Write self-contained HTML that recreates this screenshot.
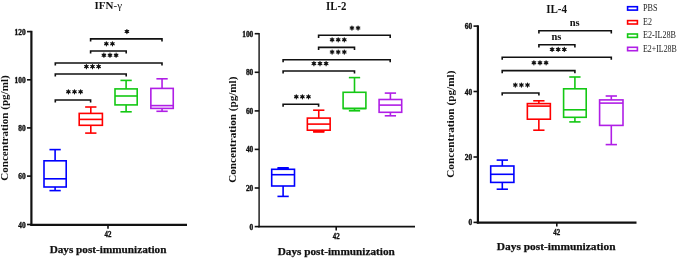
<!DOCTYPE html>
<html><head><meta charset="utf-8"><style>
html,body{margin:0;padding:0;background:#fff;width:678px;height:258px;overflow:hidden}
svg{display:block;will-change:transform}
text{font-family:"Liberation Serif",serif;fill:#111}
</style></head><body>
<svg width="678" height="258" viewBox="0 0 678 258">
<line x1="31.40" y1="30.80" x2="31.40" y2="225.60" stroke="#111" stroke-width="2.2"/>
<line x1="27.00" y1="31.60" x2="31.40" y2="31.60" stroke="#111" stroke-width="1.6"/>
<text x="25.60" y="34.60" font-size="7.4" text-anchor="end" font-weight="bold" stroke="#111" stroke-width="0.35">120</text>
<line x1="27.00" y1="79.80" x2="31.40" y2="79.80" stroke="#111" stroke-width="1.6"/>
<text x="25.60" y="82.80" font-size="7.4" text-anchor="end" font-weight="bold" stroke="#111" stroke-width="0.35">100</text>
<line x1="27.00" y1="127.90" x2="31.40" y2="127.90" stroke="#111" stroke-width="1.6"/>
<text x="25.60" y="130.90" font-size="7.4" text-anchor="end" font-weight="bold" stroke="#111" stroke-width="0.35">80</text>
<line x1="27.00" y1="176.10" x2="31.40" y2="176.10" stroke="#111" stroke-width="1.6"/>
<text x="25.60" y="179.10" font-size="7.4" text-anchor="end" font-weight="bold" stroke="#111" stroke-width="0.35">60</text>
<line x1="27.00" y1="224.50" x2="31.40" y2="224.50" stroke="#111" stroke-width="1.6"/>
<text x="25.60" y="227.50" font-size="7.4" text-anchor="end" font-weight="bold" stroke="#111" stroke-width="0.35">40</text>
<line x1="30.30" y1="224.80" x2="187.00" y2="224.80" stroke="#111" stroke-width="2.2"/>
<line x1="108.00" y1="224.80" x2="108.00" y2="228.80" stroke="#111" stroke-width="1.6"/>
<text x="108.00" y="236.70" font-size="7.8" text-anchor="middle" font-weight="bold" textLength="6.9" lengthAdjust="spacingAndGlyphs" stroke="#111" stroke-width="0.35">42</text>
<text x="108.05" y="252.60" font-size="11.1" text-anchor="middle" font-weight="bold" textLength="116.8" lengthAdjust="spacingAndGlyphs" stroke="#111" stroke-width="0.25">Days post-immunization</text>
<text x="108.30" y="8.60" font-size="11.3" text-anchor="middle" font-weight="bold" textLength="27.4" lengthAdjust="spacingAndGlyphs" >IFN<tspan font-weight="normal">-&#947;</tspan></text>
<text x="0" y="0" font-size="11" font-weight="bold" text-anchor="middle" textLength="105.4" lengthAdjust="spacingAndGlyphs" transform="translate(8.4 128.05) rotate(-90)">Concentration (pg/ml)</text>
<rect x="44.00" y="160.8" width="22.20" height="26.20" fill="none" stroke="#0000FF" stroke-width="1.6"/>
<line x1="44.00" y1="178.80" x2="66.20" y2="178.80" stroke="#0000FF" stroke-width="1.6"/>
<line x1="55.10" y1="160.80" x2="55.10" y2="149.60" stroke="#0000FF" stroke-width="1.6"/>
<line x1="49.45" y1="149.60" x2="60.75" y2="149.60" stroke="#0000FF" stroke-width="1.6"/>
<line x1="55.10" y1="187.00" x2="55.10" y2="190.60" stroke="#0000FF" stroke-width="1.6"/>
<line x1="49.45" y1="190.60" x2="60.75" y2="190.60" stroke="#0000FF" stroke-width="1.6"/>
<rect x="79.20" y="113.4" width="23.20" height="11.90" fill="none" stroke="#FF0000" stroke-width="1.6"/>
<line x1="79.20" y1="119.40" x2="102.40" y2="119.40" stroke="#FF0000" stroke-width="1.6"/>
<line x1="90.80" y1="113.40" x2="90.80" y2="107.00" stroke="#FF0000" stroke-width="1.6"/>
<line x1="85.15" y1="107.00" x2="96.45" y2="107.00" stroke="#FF0000" stroke-width="1.6"/>
<line x1="90.80" y1="125.30" x2="90.80" y2="133.10" stroke="#FF0000" stroke-width="1.6"/>
<line x1="85.15" y1="133.10" x2="96.45" y2="133.10" stroke="#FF0000" stroke-width="1.6"/>
<rect x="115.00" y="88.9" width="22.20" height="16.00" fill="none" stroke="#14C814" stroke-width="1.6"/>
<line x1="115.00" y1="96.00" x2="137.20" y2="96.00" stroke="#14C814" stroke-width="1.6"/>
<line x1="126.10" y1="88.90" x2="126.10" y2="80.40" stroke="#14C814" stroke-width="1.6"/>
<line x1="120.45" y1="80.40" x2="131.75" y2="80.40" stroke="#14C814" stroke-width="1.6"/>
<line x1="126.10" y1="104.90" x2="126.10" y2="111.80" stroke="#14C814" stroke-width="1.6"/>
<line x1="120.45" y1="111.80" x2="131.75" y2="111.80" stroke="#14C814" stroke-width="1.6"/>
<rect x="150.85" y="88.4" width="22.40" height="20.00" fill="none" stroke="#B01EE6" stroke-width="1.6"/>
<line x1="150.85" y1="105.60" x2="173.25" y2="105.60" stroke="#B01EE6" stroke-width="1.6"/>
<line x1="162.05" y1="88.40" x2="162.05" y2="78.80" stroke="#B01EE6" stroke-width="1.6"/>
<line x1="156.40" y1="78.80" x2="167.70" y2="78.80" stroke="#B01EE6" stroke-width="1.6"/>
<line x1="162.05" y1="108.40" x2="162.05" y2="111.30" stroke="#B01EE6" stroke-width="1.6"/>
<line x1="156.40" y1="111.30" x2="167.70" y2="111.30" stroke="#B01EE6" stroke-width="1.6"/>
<path d="M90.60 41.50V38.90H162.00V41.50" fill="none" stroke="#111" stroke-width="1.6"/>
<path d="M126.90 29.45L126.90 33.55M125.12 30.48L128.68 32.52M128.68 30.48L125.12 32.52" stroke="#111" stroke-width="1.15" stroke-linecap="round"/>
<circle cx="126.90" cy="31.50" r="1.5" fill="#111"/>
<path d="M90.60 53.60V51.00H126.20V53.60" fill="none" stroke="#111" stroke-width="1.6"/>
<path d="M106.35 41.75L106.35 45.85M104.57 42.77L108.13 44.82M108.13 42.77L104.57 44.82" stroke="#111" stroke-width="1.15" stroke-linecap="round"/>
<circle cx="106.35" cy="43.80" r="1.5" fill="#111"/>
<path d="M112.45 41.75L112.45 45.85M110.67 42.77L114.23 44.82M114.23 42.77L110.67 44.82" stroke="#111" stroke-width="1.15" stroke-linecap="round"/>
<circle cx="112.45" cy="43.80" r="1.5" fill="#111"/>
<path d="M55.30 65.60V63.00H162.00V65.60" fill="none" stroke="#111" stroke-width="1.6"/>
<path d="M103.90 53.15L103.90 57.25M102.12 54.18L105.68 56.23M105.68 54.18L102.12 56.23" stroke="#111" stroke-width="1.15" stroke-linecap="round"/>
<circle cx="103.90" cy="55.20" r="1.5" fill="#111"/>
<path d="M110.00 53.15L110.00 57.25M108.22 54.18L111.78 56.23M111.78 54.18L108.22 56.23" stroke="#111" stroke-width="1.15" stroke-linecap="round"/>
<circle cx="110.00" cy="55.20" r="1.5" fill="#111"/>
<path d="M116.10 53.15L116.10 57.25M114.32 54.18L117.88 56.23M117.88 54.18L114.32 56.23" stroke="#111" stroke-width="1.15" stroke-linecap="round"/>
<circle cx="116.10" cy="55.20" r="1.5" fill="#111"/>
<path d="M55.30 76.60V74.00H126.20V76.60" fill="none" stroke="#111" stroke-width="1.6"/>
<path d="M86.40 64.55L86.40 68.65M84.62 65.57L88.18 67.62M88.18 65.57L84.62 67.62" stroke="#111" stroke-width="1.15" stroke-linecap="round"/>
<circle cx="86.40" cy="66.60" r="1.5" fill="#111"/>
<path d="M92.50 64.55L92.50 68.65M90.72 65.57L94.28 67.62M94.28 65.57L90.72 67.62" stroke="#111" stroke-width="1.15" stroke-linecap="round"/>
<circle cx="92.50" cy="66.60" r="1.5" fill="#111"/>
<path d="M98.60 64.55L98.60 68.65M96.82 65.57L100.38 67.62M100.38 65.57L96.82 67.62" stroke="#111" stroke-width="1.15" stroke-linecap="round"/>
<circle cx="98.60" cy="66.60" r="1.5" fill="#111"/>
<path d="M55.30 102.60V100.00H90.60V102.60" fill="none" stroke="#111" stroke-width="1.6"/>
<path d="M68.40 89.75L68.40 93.85M66.62 90.77L70.18 92.83M70.18 90.77L66.62 92.83" stroke="#111" stroke-width="1.15" stroke-linecap="round"/>
<circle cx="68.40" cy="91.80" r="1.5" fill="#111"/>
<path d="M74.50 89.75L74.50 93.85M72.72 90.77L76.28 92.83M76.28 90.77L72.72 92.83" stroke="#111" stroke-width="1.15" stroke-linecap="round"/>
<circle cx="74.50" cy="91.80" r="1.5" fill="#111"/>
<path d="M80.60 89.75L80.60 93.85M78.82 90.77L82.38 92.83M82.38 90.77L78.82 92.83" stroke="#111" stroke-width="1.15" stroke-linecap="round"/>
<circle cx="80.60" cy="91.80" r="1.5" fill="#111"/>
<line x1="259.10" y1="32.90" x2="259.10" y2="227.30" stroke="#111" stroke-width="1.4"/>
<line x1="254.70" y1="33.70" x2="259.10" y2="33.70" stroke="#111" stroke-width="1.6"/>
<text x="253.30" y="36.70" font-size="7.4" text-anchor="end" font-weight="bold" stroke="#111" stroke-width="0.35">100</text>
<line x1="254.70" y1="72.30" x2="259.10" y2="72.30" stroke="#111" stroke-width="1.6"/>
<text x="253.30" y="75.30" font-size="7.4" text-anchor="end" font-weight="bold" stroke="#111" stroke-width="0.35">80</text>
<line x1="254.70" y1="110.90" x2="259.10" y2="110.90" stroke="#111" stroke-width="1.6"/>
<text x="253.30" y="113.90" font-size="7.4" text-anchor="end" font-weight="bold" stroke="#111" stroke-width="0.35">60</text>
<line x1="254.70" y1="149.40" x2="259.10" y2="149.40" stroke="#111" stroke-width="1.6"/>
<text x="253.30" y="152.40" font-size="7.4" text-anchor="end" font-weight="bold" stroke="#111" stroke-width="0.35">40</text>
<line x1="254.70" y1="188.00" x2="259.10" y2="188.00" stroke="#111" stroke-width="1.6"/>
<text x="253.30" y="191.00" font-size="7.4" text-anchor="end" font-weight="bold" stroke="#111" stroke-width="0.35">20</text>
<line x1="254.70" y1="226.60" x2="259.10" y2="226.60" stroke="#111" stroke-width="1.6"/>
<text x="253.30" y="229.60" font-size="7.4" text-anchor="end" font-weight="bold" stroke="#111" stroke-width="0.35">0</text>
<line x1="258.30" y1="226.60" x2="415.00" y2="226.60" stroke="#111" stroke-width="1.8"/>
<line x1="336.20" y1="226.60" x2="336.20" y2="230.60" stroke="#111" stroke-width="1.6"/>
<text x="336.20" y="239.40" font-size="7.8" text-anchor="middle" font-weight="bold" textLength="6.9" lengthAdjust="spacingAndGlyphs" stroke="#111" stroke-width="0.35">42</text>
<text x="336.25" y="254.50" font-size="11.1" text-anchor="middle" font-weight="bold" textLength="117.2" lengthAdjust="spacingAndGlyphs" stroke="#111" stroke-width="0.25">Days post-immunization</text>
<text x="336.20" y="10.00" font-size="11.5" text-anchor="middle" font-weight="bold" textLength="20.4" lengthAdjust="spacingAndGlyphs" >IL-2</text>
<text x="0" y="0" font-size="11" font-weight="bold" text-anchor="middle" textLength="106.2" lengthAdjust="spacingAndGlyphs" transform="translate(236.1 129.7) rotate(-90)">Concentration (pg/ml)</text>
<rect x="271.70" y="169.3" width="22.80" height="16.70" fill="none" stroke="#0000FF" stroke-width="1.6"/>
<line x1="271.70" y1="174.70" x2="294.50" y2="174.70" stroke="#0000FF" stroke-width="1.6"/>
<line x1="283.10" y1="169.30" x2="283.10" y2="167.80" stroke="#0000FF" stroke-width="1.6"/>
<line x1="277.45" y1="167.80" x2="288.75" y2="167.80" stroke="#0000FF" stroke-width="1.6"/>
<line x1="283.10" y1="186.00" x2="283.10" y2="196.40" stroke="#0000FF" stroke-width="1.6"/>
<line x1="277.45" y1="196.40" x2="288.75" y2="196.40" stroke="#0000FF" stroke-width="1.6"/>
<rect x="277.45" y="167.80" width="11.30" height="1.50" fill="#0000FF"/>
<rect x="307.35" y="118.1" width="22.80" height="12.10" fill="none" stroke="#FF0000" stroke-width="1.6"/>
<line x1="307.35" y1="124.10" x2="330.15" y2="124.10" stroke="#FF0000" stroke-width="1.6"/>
<line x1="318.75" y1="118.10" x2="318.75" y2="110.20" stroke="#FF0000" stroke-width="1.6"/>
<line x1="313.10" y1="110.20" x2="324.40" y2="110.20" stroke="#FF0000" stroke-width="1.6"/>
<line x1="318.75" y1="130.20" x2="318.75" y2="132.00" stroke="#FF0000" stroke-width="1.6"/>
<line x1="313.10" y1="132.00" x2="324.40" y2="132.00" stroke="#FF0000" stroke-width="1.6"/>
<rect x="313.10" y="130.20" width="11.30" height="1.80" fill="#FF0000"/>
<rect x="343.10" y="92.3" width="22.80" height="16.20" fill="none" stroke="#14C814" stroke-width="1.6"/>
<line x1="343.10" y1="108.50" x2="365.90" y2="108.50" stroke="#14C814" stroke-width="1.6"/>
<line x1="354.50" y1="92.30" x2="354.50" y2="77.60" stroke="#14C814" stroke-width="1.6"/>
<line x1="348.85" y1="77.60" x2="360.15" y2="77.60" stroke="#14C814" stroke-width="1.6"/>
<line x1="354.50" y1="108.50" x2="354.50" y2="110.80" stroke="#14C814" stroke-width="1.6"/>
<line x1="348.85" y1="110.80" x2="360.15" y2="110.80" stroke="#14C814" stroke-width="1.6"/>
<rect x="379.10" y="99.5" width="22.60" height="12.80" fill="none" stroke="#B01EE6" stroke-width="1.6"/>
<line x1="379.10" y1="105.10" x2="401.70" y2="105.10" stroke="#B01EE6" stroke-width="1.6"/>
<line x1="390.40" y1="99.50" x2="390.40" y2="93.10" stroke="#B01EE6" stroke-width="1.6"/>
<line x1="384.75" y1="93.10" x2="396.05" y2="93.10" stroke="#B01EE6" stroke-width="1.6"/>
<line x1="390.40" y1="112.30" x2="390.40" y2="115.80" stroke="#B01EE6" stroke-width="1.6"/>
<line x1="384.75" y1="115.80" x2="396.05" y2="115.80" stroke="#B01EE6" stroke-width="1.6"/>
<path d="M318.60 37.90V35.30H390.20V37.90" fill="none" stroke="#111" stroke-width="1.6"/>
<path d="M351.95 25.95L351.95 30.05M350.17 26.98L353.73 29.02M353.73 26.98L350.17 29.02" stroke="#111" stroke-width="1.15" stroke-linecap="round"/>
<circle cx="351.95" cy="28.00" r="1.5" fill="#111"/>
<path d="M358.05 25.95L358.05 30.05M356.27 26.98L359.83 29.02M359.83 26.98L356.27 29.02" stroke="#111" stroke-width="1.15" stroke-linecap="round"/>
<circle cx="358.05" cy="28.00" r="1.5" fill="#111"/>
<path d="M318.60 50.00V47.40H354.50V50.00" fill="none" stroke="#111" stroke-width="1.6"/>
<path d="M332.10 37.75L332.10 41.85M330.32 38.77L333.88 40.82M333.88 38.77L330.32 40.82" stroke="#111" stroke-width="1.15" stroke-linecap="round"/>
<circle cx="332.10" cy="39.80" r="1.5" fill="#111"/>
<path d="M338.20 37.75L338.20 41.85M336.42 38.77L339.98 40.82M339.98 38.77L336.42 40.82" stroke="#111" stroke-width="1.15" stroke-linecap="round"/>
<circle cx="338.20" cy="39.80" r="1.5" fill="#111"/>
<path d="M344.30 37.75L344.30 41.85M342.52 38.77L346.08 40.82M346.08 38.77L342.52 40.82" stroke="#111" stroke-width="1.15" stroke-linecap="round"/>
<circle cx="344.30" cy="39.80" r="1.5" fill="#111"/>
<path d="M283.10 62.30V59.70H390.20V62.30" fill="none" stroke="#111" stroke-width="1.6"/>
<path d="M332.10 49.95L332.10 54.05M330.32 50.98L333.88 53.02M333.88 50.98L330.32 53.02" stroke="#111" stroke-width="1.15" stroke-linecap="round"/>
<circle cx="332.10" cy="52.00" r="1.5" fill="#111"/>
<path d="M338.20 49.95L338.20 54.05M336.42 50.98L339.98 53.02M339.98 50.98L336.42 53.02" stroke="#111" stroke-width="1.15" stroke-linecap="round"/>
<circle cx="338.20" cy="52.00" r="1.5" fill="#111"/>
<path d="M344.30 49.95L344.30 54.05M342.52 50.98L346.08 53.02M346.08 50.98L342.52 53.02" stroke="#111" stroke-width="1.15" stroke-linecap="round"/>
<circle cx="344.30" cy="52.00" r="1.5" fill="#111"/>
<path d="M283.10 73.60V71.00H354.50V73.60" fill="none" stroke="#111" stroke-width="1.6"/>
<path d="M313.90 61.55L313.90 65.65M312.12 62.58L315.68 64.62M315.68 62.58L312.12 64.62" stroke="#111" stroke-width="1.15" stroke-linecap="round"/>
<circle cx="313.90" cy="63.60" r="1.5" fill="#111"/>
<path d="M320.00 61.55L320.00 65.65M318.22 62.58L321.78 64.62M321.78 62.58L318.22 64.62" stroke="#111" stroke-width="1.15" stroke-linecap="round"/>
<circle cx="320.00" cy="63.60" r="1.5" fill="#111"/>
<path d="M326.10 61.55L326.10 65.65M324.32 62.58L327.88 64.62M327.88 62.58L324.32 64.62" stroke="#111" stroke-width="1.15" stroke-linecap="round"/>
<circle cx="326.10" cy="63.60" r="1.5" fill="#111"/>
<path d="M283.10 106.80V104.20H318.60V106.80" fill="none" stroke="#111" stroke-width="1.6"/>
<path d="M296.30 94.75L296.30 98.85M294.52 95.77L298.08 97.83M298.08 95.77L294.52 97.83" stroke="#111" stroke-width="1.15" stroke-linecap="round"/>
<circle cx="296.30" cy="96.80" r="1.5" fill="#111"/>
<path d="M302.40 94.75L302.40 98.85M300.62 95.77L304.18 97.83M304.18 95.77L300.62 97.83" stroke="#111" stroke-width="1.15" stroke-linecap="round"/>
<circle cx="302.40" cy="96.80" r="1.5" fill="#111"/>
<path d="M308.50 94.75L308.50 98.85M306.72 95.77L310.28 97.83M310.28 95.77L306.72 97.83" stroke="#111" stroke-width="1.15" stroke-linecap="round"/>
<circle cx="308.50" cy="96.80" r="1.5" fill="#111"/>
<line x1="477.90" y1="25.30" x2="477.90" y2="223.50" stroke="#111" stroke-width="2.2"/>
<line x1="473.50" y1="26.10" x2="477.90" y2="26.10" stroke="#111" stroke-width="1.6"/>
<text x="472.10" y="29.10" font-size="7.4" text-anchor="end" font-weight="bold" stroke="#111" stroke-width="0.35">60</text>
<line x1="473.50" y1="91.50" x2="477.90" y2="91.50" stroke="#111" stroke-width="1.6"/>
<text x="472.10" y="94.50" font-size="7.4" text-anchor="end" font-weight="bold" stroke="#111" stroke-width="0.35">40</text>
<line x1="473.50" y1="157.00" x2="477.90" y2="157.00" stroke="#111" stroke-width="1.6"/>
<text x="472.10" y="160.00" font-size="7.4" text-anchor="end" font-weight="bold" stroke="#111" stroke-width="0.35">20</text>
<line x1="473.50" y1="222.40" x2="477.90" y2="222.40" stroke="#111" stroke-width="1.6"/>
<text x="472.10" y="225.40" font-size="7.4" text-anchor="end" font-weight="bold" stroke="#111" stroke-width="0.35">0</text>
<line x1="476.80" y1="222.60" x2="636.50" y2="222.60" stroke="#111" stroke-width="2.1"/>
<line x1="556.80" y1="222.60" x2="556.80" y2="226.60" stroke="#111" stroke-width="1.6"/>
<text x="556.80" y="235.30" font-size="7.8" text-anchor="middle" font-weight="bold" textLength="6.9" lengthAdjust="spacingAndGlyphs" stroke="#111" stroke-width="0.35">42</text>
<text x="556.20" y="250.00" font-size="11.1" text-anchor="middle" font-weight="bold" textLength="118.7" lengthAdjust="spacingAndGlyphs" stroke="#111" stroke-width="0.25">Days post-immunization</text>
<text x="556.65" y="12.50" font-size="11.5" text-anchor="middle" font-weight="bold" textLength="20.9" lengthAdjust="spacingAndGlyphs" >IL-4</text>
<text x="0" y="0" font-size="11.2" font-weight="bold" text-anchor="middle" textLength="107.2" lengthAdjust="spacingAndGlyphs" transform="translate(454.3 124.2) rotate(-90)">Concentration (pg/ml)</text>
<rect x="490.70" y="166.0" width="23.20" height="16.40" fill="none" stroke="#0000FF" stroke-width="1.6"/>
<line x1="490.70" y1="174.30" x2="513.90" y2="174.30" stroke="#0000FF" stroke-width="1.6"/>
<line x1="502.30" y1="166.00" x2="502.30" y2="160.10" stroke="#0000FF" stroke-width="1.6"/>
<line x1="496.65" y1="160.10" x2="507.95" y2="160.10" stroke="#0000FF" stroke-width="1.6"/>
<line x1="502.30" y1="182.40" x2="502.30" y2="189.20" stroke="#0000FF" stroke-width="1.6"/>
<line x1="496.65" y1="189.20" x2="507.95" y2="189.20" stroke="#0000FF" stroke-width="1.6"/>
<rect x="527.35" y="103.6" width="23.00" height="15.60" fill="none" stroke="#FF0000" stroke-width="1.6"/>
<line x1="527.35" y1="106.10" x2="550.35" y2="106.10" stroke="#FF0000" stroke-width="1.6"/>
<line x1="538.85" y1="103.60" x2="538.85" y2="100.80" stroke="#FF0000" stroke-width="1.6"/>
<line x1="533.20" y1="100.80" x2="544.50" y2="100.80" stroke="#FF0000" stroke-width="1.6"/>
<line x1="538.85" y1="119.20" x2="538.85" y2="130.20" stroke="#FF0000" stroke-width="1.6"/>
<line x1="533.20" y1="130.20" x2="544.50" y2="130.20" stroke="#FF0000" stroke-width="1.6"/>
<rect x="563.60" y="88.8" width="22.60" height="28.50" fill="none" stroke="#14C814" stroke-width="1.6"/>
<line x1="563.60" y1="109.80" x2="586.20" y2="109.80" stroke="#14C814" stroke-width="1.6"/>
<line x1="574.90" y1="88.80" x2="574.90" y2="77.00" stroke="#14C814" stroke-width="1.6"/>
<line x1="569.25" y1="77.00" x2="580.55" y2="77.00" stroke="#14C814" stroke-width="1.6"/>
<line x1="574.90" y1="117.30" x2="574.90" y2="121.90" stroke="#14C814" stroke-width="1.6"/>
<line x1="569.25" y1="121.90" x2="580.55" y2="121.90" stroke="#14C814" stroke-width="1.6"/>
<rect x="599.60" y="99.9" width="23.40" height="25.50" fill="none" stroke="#B01EE6" stroke-width="1.6"/>
<line x1="599.60" y1="103.10" x2="623.00" y2="103.10" stroke="#B01EE6" stroke-width="1.6"/>
<line x1="611.30" y1="99.90" x2="611.30" y2="96.00" stroke="#B01EE6" stroke-width="1.6"/>
<line x1="605.65" y1="96.00" x2="616.95" y2="96.00" stroke="#B01EE6" stroke-width="1.6"/>
<line x1="611.30" y1="125.40" x2="611.30" y2="144.60" stroke="#B01EE6" stroke-width="1.6"/>
<line x1="605.65" y1="144.60" x2="616.95" y2="144.60" stroke="#B01EE6" stroke-width="1.6"/>
<path d="M538.90 33.40V30.80H611.30V33.40" fill="none" stroke="#111" stroke-width="1.6"/>
<text x="574.70" y="26.30" font-size="10.5" text-anchor="middle" font-weight="bold" >ns</text>
<path d="M538.90 47.40V44.80H574.90V47.40" fill="none" stroke="#111" stroke-width="1.6"/>
<text x="556.50" y="40.40" font-size="10.5" text-anchor="middle" font-weight="bold" >ns</text>
<path d="M502.20 59.80V57.20H611.30V59.80" fill="none" stroke="#111" stroke-width="1.6"/>
<path d="M552.10 47.35L552.10 51.45M550.32 48.38L553.88 50.42M553.88 48.38L550.32 50.42" stroke="#111" stroke-width="1.15" stroke-linecap="round"/>
<circle cx="552.10" cy="49.40" r="1.5" fill="#111"/>
<path d="M558.20 47.35L558.20 51.45M556.42 48.38L559.98 50.42M559.98 48.38L556.42 50.42" stroke="#111" stroke-width="1.15" stroke-linecap="round"/>
<circle cx="558.20" cy="49.40" r="1.5" fill="#111"/>
<path d="M564.30 47.35L564.30 51.45M562.52 48.38L566.08 50.42M566.08 48.38L562.52 50.42" stroke="#111" stroke-width="1.15" stroke-linecap="round"/>
<circle cx="564.30" cy="49.40" r="1.5" fill="#111"/>
<path d="M502.20 73.20V70.60H574.90V73.20" fill="none" stroke="#111" stroke-width="1.6"/>
<path d="M533.90 60.75L533.90 64.85M532.12 61.77L535.68 63.82M535.68 61.77L532.12 63.82" stroke="#111" stroke-width="1.15" stroke-linecap="round"/>
<circle cx="533.90" cy="62.80" r="1.5" fill="#111"/>
<path d="M540.00 60.75L540.00 64.85M538.22 61.77L541.78 63.82M541.78 61.77L538.22 63.82" stroke="#111" stroke-width="1.15" stroke-linecap="round"/>
<circle cx="540.00" cy="62.80" r="1.5" fill="#111"/>
<path d="M546.10 60.75L546.10 64.85M544.32 61.77L547.88 63.82M547.88 61.77L544.32 63.82" stroke="#111" stroke-width="1.15" stroke-linecap="round"/>
<circle cx="546.10" cy="62.80" r="1.5" fill="#111"/>
<path d="M502.20 95.60V93.00H538.90V95.60" fill="none" stroke="#111" stroke-width="1.6"/>
<path d="M515.30 82.95L515.30 87.05M513.52 83.97L517.08 86.03M517.08 83.97L513.52 86.03" stroke="#111" stroke-width="1.15" stroke-linecap="round"/>
<circle cx="515.30" cy="85.00" r="1.5" fill="#111"/>
<path d="M521.40 82.95L521.40 87.05M519.62 83.97L523.18 86.03M523.18 83.97L519.62 86.03" stroke="#111" stroke-width="1.15" stroke-linecap="round"/>
<circle cx="521.40" cy="85.00" r="1.5" fill="#111"/>
<path d="M527.50 82.95L527.50 87.05M525.72 83.97L529.28 86.03M529.28 83.97L525.72 86.03" stroke="#111" stroke-width="1.15" stroke-linecap="round"/>
<circle cx="527.50" cy="85.00" r="1.5" fill="#111"/>
<rect x="627.6" y="6.70" width="9.8" height="3.4" fill="none" stroke="#0000FF" stroke-width="1.6"/>
<text x="643.0" y="10.90" font-size="9.3" font-weight="normal" textLength="14.6" lengthAdjust="spacingAndGlyphs" style="fill:#222">PBS</text>
<rect x="627.6" y="20.60" width="9.8" height="3.4" fill="none" stroke="#FF0000" stroke-width="1.6"/>
<text x="643.0" y="24.80" font-size="9.3" font-weight="normal" textLength="8.9" lengthAdjust="spacingAndGlyphs" style="fill:#222">E2</text>
<rect x="627.6" y="34.00" width="9.8" height="3.4" fill="none" stroke="#14C814" stroke-width="1.6"/>
<text x="643.0" y="38.20" font-size="9.3" font-weight="normal" textLength="33.0" lengthAdjust="spacingAndGlyphs" style="fill:#222">E2-IL28B</text>
<rect x="627.6" y="47.30" width="9.8" height="3.4" fill="none" stroke="#B01EE6" stroke-width="1.6"/>
<text x="643.0" y="51.50" font-size="9.3" font-weight="normal" textLength="33.8" lengthAdjust="spacingAndGlyphs" style="fill:#222">E2+IL28B</text>
</svg>
</body></html>
